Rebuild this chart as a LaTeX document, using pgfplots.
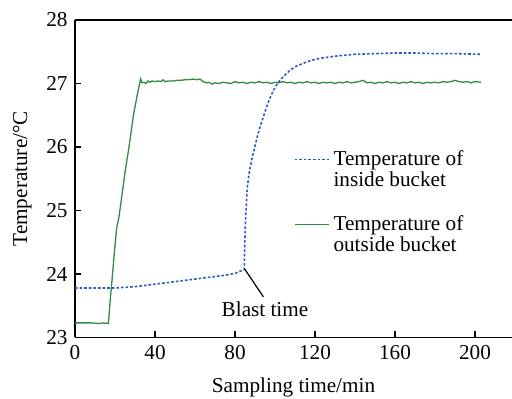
\documentclass[border=0pt]{standalone}
\usepackage{fontspec}
\setmainfont{Liberation Serif}
\usepackage{pgfplots}
\pgfplotsset{compat=1.18}
\definecolor{cblue}{RGB}{40,90,200}
\definecolor{cgreen}{RGB}{50,138,70}
\begin{document}
\fontsize{10.6}{10.5}\selectfont
\begin{tikzpicture}
\begin{axis}[
  scale only axis, width=218.5pt, height=158.75pt,
  xmin=0, xmax=218.5, ymin=23, ymax=28,
  axis x line=bottom, axis y line=left,
  axis line style={-, line width=0.9pt, black},
  xtick={0,40,80,120,160,200}, ytick={23,24,25,26,27,28},
  xticklabels={0,40,80,120,160,200}, yticklabels={23,24,25,26,27,28},
  tick align=inside, major tick length=3pt,
  tick style={line width=0.6pt, black},
  tick label style={font=\fontsize{10.6}{10.5}\selectfont},
  xlabel={Sampling time/min}, ylabel={Temperature/°C},
  every axis x label/.style={at={(rel axis cs:0.5,-0.172)}, anchor=base},
  every axis y label/.style={at={(rel axis cs:-0.1098,0.5)}, rotate=90, anchor=base},
  legend style={at={(rel axis cs:0.486,0.615)}, anchor=north west, draw=none, fill=none,
    row sep=19.5pt, nodes={font=\fontsize{10.6}{10.5}\selectfont}},
  legend cell align=left,
]
\addplot[cblue, line width=0.8pt, dash pattern=on 1.3pt off 1pt] coordinates {
(0,23.78) (5,23.78) (10,23.78) (15,23.78) (20,23.78) (25,23.79) (30,23.80)
(35,23.82) (40,23.84) (45,23.86) (50,23.88) (55,23.90) (60,23.92) (65,23.94)
(70,23.96) (75,23.98) (80,24.01) (84.6,24.07)
(84.9,24.5) (85.3,24.88) (86.1,25.35) (87.2,25.62) (88.5,25.82) (89.5,25.95)
(90.8,26.12) (92.2,26.28) (93.8,26.44) (95.5,26.60) (97.2,26.75) (99,26.88)
(101,26.99) (103,27.07) (105.5,27.15) (108,27.22) (110.5,27.27) (113.5,27.31)
(116.7,27.35) (120,27.38) (123.3,27.40) (130,27.43) (140,27.46) (150,27.47)
(160,27.48) (170,27.48) (180,27.47) (190,27.47) (203,27.46)
};
\addlegendentry{\vtop{\hbox{Temperature of}\hbox{inside bucket}}}
\addplot[cgreen, line width=0.65pt] coordinates {
(0,23.23) (4,23.23) (8,23.23) (12,23.22) (14,23.23) (16.7,23.22)
(17.5,23.55) (18.5,23.9) (19.3,24.2) (20.8,24.72) (22,24.9) (23.3,25.2)
(25,25.6) (27,26.0) (29.2,26.5) (31,26.8) (32.8,27.07)
(33.5,27.01) (34.5,27.02) (35.5,27.0) (36.5,27.04) (37.5,27.02) (38.5,27.04)
(40,27.03) (41.5,27.04) (43,27.03) (44,27.06) (45,27.03) (47,27.04) (49,27.04)
(51,27.05) (53,27.05) (55,27.06) (57,27.06) (59,27.07) (61,27.06) (62.5,27.07)
(64,27.03) (66,27.01) (67,27.02) (68.5,26.99) (70,27.01) (72,27.0) (74,27.02)
(76,27.01) (78,27.0) (80,27.03) (82,27.01) (84,27.02) (86,27.0) (88,27.02)
(90,27.01) (92,27.03) (94,27.01) (96,27.02) (98,27.0) (100,27.02) (102,27.01)
(104,27.03) (106,27.01) (108,27.02) (110,27.0) (112,27.02) (114,27.01)
(116,27.03) (118,27.01) (120,27.02) (122,27.0) (124,27.02) (126,27.01)
(128,27.02) (130,27.0) (132,27.02) (134,27.01) (136,27.03) (138,27.01)
(140,27.02) (142,27.03) (144,27.05) (146,27.01) (148,27.02) (150,27.0)
(152,27.02) (154,27.01) (156,27.03) (158,27.01) (160,27.02) (162,27.0)
(164,27.02) (166,27.01) (168,27.03) (170,27.01) (172,27.02) (174,27.0)
(176,27.02) (178,27.01) (180,27.02) (182,27.01) (184,27.03) (186,27.02)
(188,27.03) (190,27.05) (192,27.03) (194,27.02) (196,27.03) (198,27.01)
(200,27.03) (203,27.02)
};
\addlegendentry{\vtop{\hbox{Temperature of}\hbox{outside bucket}}}
\draw[line width=0.9pt, black] (rel axis cs:0,1) -- (rel axis cs:1,1);
\draw[line width=0.6pt, black] (axis cs:84.8,24.08) -- (axis cs:94.2,23.64);
\node[anchor=base] at (axis cs:95,23.33) {Blast time};
\coordinate (bl) at (rel axis cs:0,0);
\coordinate (tr) at (rel axis cs:1,1);
\end{axis}
\pgfresetboundingbox
\path ([xshift=-37.5pt,yshift=-30.75pt]bl) rectangle ([yshift=10pt]tr);
\end{tikzpicture}
\end{document}
